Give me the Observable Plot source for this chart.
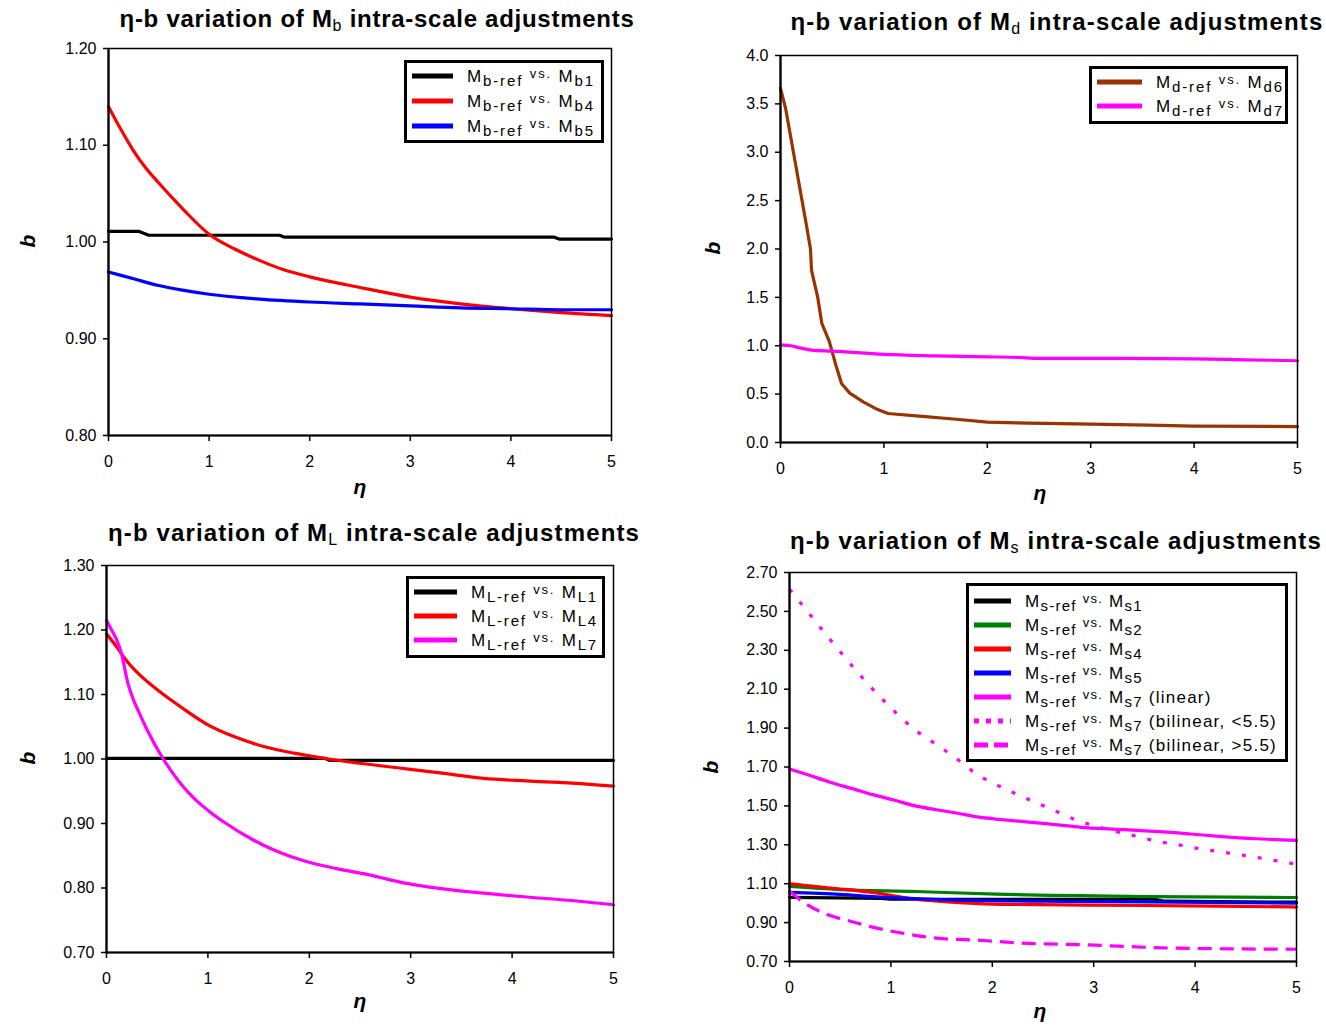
<!DOCTYPE html>
<html><head><meta charset="utf-8">
<script src="https://cdn.jsdelivr.net/npm/d3@7"></script>
<script src="https://cdn.jsdelivr.net/npm/@observablehq/plot@0.6"></script>
<style>
body{margin:0;background:#fff;}
#root{position:relative;width:1326px;height:1026px;background:#fff;font-family:"Liberation Sans",Arial,sans-serif;overflow:hidden;color:#000}
.title{position:absolute;white-space:nowrap;font-family:"Liberation Sans Narrow","Liberation Sans",Arial,sans-serif;font-weight:bold;font-size:24px;transform:translate(-50%,-50%);}
.title sub{font-size:16px;vertical-align:-4px;line-height:0;font-weight:normal}
.axl{position:absolute;font-weight:bold;font-style:italic;font-size:21px;line-height:1;}
.xl{transform:translate(-50%,-50%)}
.yl{transform:translate(-50%,-50%) rotate(-90deg)}
.legend{position:absolute;box-sizing:border-box;border:3px solid #000;background:#fff;}
.row{display:flex;align-items:center;white-space:nowrap;}
.row svg{flex:none;display:block}
.lab{font-size:17px;line-height:1}
.lab sub{font-size:15px;vertical-align:-4px;line-height:0}
.lab .vs{font-size:13px;vertical-align:4px}
</style>
</head><body><div id="root"></div>
<script>
// ---------- data ----------
const X_TICKS = [0, 1, 2, 3, 4, 5];

// Panel 1: M_b
const MB_YTICKS = [0.80, 0.90, 1.00, 1.10, 1.20];
const MB1_ETA = [0, 0.3, 0.4, 1.7, 1.75, 4.43, 4.48, 5];
const MB1_B   = [1.011, 1.011, 1.007, 1.007, 1.005, 1.005, 1.003, 1.003];
const MB4_ETA = [0, 0.125, 0.25, 0.375, 0.5, 0.75, 1, 1.25, 1.5, 1.75, 2, 2.5, 3, 3.5, 4, 4.5, 5];
const MB4_B   = [1.140, 1.116, 1.094, 1.076, 1.061, 1.033, 1.008, 0.993, 0.981, 0.971, 0.964, 0.953, 0.943, 0.936, 0.931, 0.927, 0.924];
const MB5_ETA = [0, 0.25, 0.5, 0.75, 1, 1.5, 2, 2.5, 3, 3.5, 4, 4.5, 5];
const MB5_B   = [0.969, 0.962, 0.955, 0.950, 0.946, 0.941, 0.938, 0.936, 0.934, 0.932, 0.931, 0.930, 0.930];

// Panel 2: M_d
const MD_YTICKS = [0.0, 0.5, 1.0, 1.5, 2.0, 2.5, 3.0, 3.5, 4.0];
const MD6_ETA = [0, 0.05, 0.1, 0.15, 0.2, 0.25, 0.29, 0.30, 0.36, 0.40, 0.47, 0.53, 0.59, 0.67, 0.80, 0.94, 1.04, 1.37, 1.70, 2.0, 2.4, 3.0, 3.56, 4.0, 5];
const MD6_B   = [3.66, 3.45, 3.15, 2.85, 2.55, 2.25, 2.0, 1.78, 1.50, 1.23, 1.05, 0.82, 0.61, 0.51, 0.42, 0.34, 0.30, 0.27, 0.24, 0.21, 0.20, 0.19, 0.18, 0.17, 0.165];
const MD7_ETA = [0, 0.1, 0.2, 0.3, 0.5, 1.0, 1.5, 2.0, 2.3, 2.5, 3, 4, 4.5, 5];
const MD7_B   = [1.01, 1.00, 0.975, 0.955, 0.945, 0.91, 0.895, 0.885, 0.88, 0.87, 0.87, 0.865, 0.855, 0.845];

// Panel 3: M_L
const ML_YTICKS = [0.70, 0.80, 0.90, 1.00, 1.10, 1.20, 1.30];
const ML1_ETA = [0, 2.15, 2.2, 5];
const ML1_B   = [1.001, 1.001, 0.998, 0.998];
const ML4_ETA = [0, 0.1, 0.19, 0.31, 0.52, 0.73, 1.0, 1.27, 1.56, 1.85, 2.19, 2.52, 2.89, 3.31, 3.72, 4.14, 4.55, 5];
const ML4_B   = [1.194, 1.174, 1.154, 1.133, 1.105, 1.081, 1.053, 1.034, 1.019, 1.009, 1.000, 0.993, 0.986, 0.978, 0.970, 0.966, 0.963, 0.958];
const ML7_ETA = [0, 0.05, 0.10, 0.15, 0.21, 0.27, 0.31, 0.395, 0.56, 0.73, 0.89, 1.02, 1.18, 1.43, 1.68, 1.97, 2.27, 2.6, 2.93, 3.3, 3.72, 4.14, 4.55, 5];
const ML7_B   = [1.215, 1.200, 1.185, 1.162, 1.118, 1.090, 1.076, 1.047, 1.000, 0.962, 0.935, 0.918, 0.900, 0.876, 0.857, 0.841, 0.830, 0.820, 0.808, 0.799, 0.792, 0.786, 0.781, 0.774];

// Panel 4: M_s
const MS_YTICKS = [0.70, 0.90, 1.10, 1.30, 1.50, 1.70, 1.90, 2.10, 2.30, 2.50, 2.70];
const MS1_ETA = [0, 0.9, 1.0, 3.6, 3.7, 5];
const MS1_B   = [1.03, 1.025, 1.02, 1.02, 1.01, 1.005];
const MS2_ETA = [0, 0.5, 1.24, 2.04, 3.59, 5];
const MS2_B   = [1.086, 1.07, 1.06, 1.046, 1.034, 1.029];
const MS4_ETA = [0, 0.4, 0.82, 1.24, 1.6, 2.0, 3, 4.2, 5];
const MS4_B   = [1.10, 1.078, 1.055, 1.02, 1.005, 0.995, 0.99, 0.985, 0.98];
const MS5_ETA = [0, 0.5, 0.9, 1.6, 2.9, 5];
const MS5_B   = [1.055, 1.045, 1.031, 1.017, 1.009, 1.00];
const MS7L_ETA = [0, 0.18, 0.4, 0.61, 0.82, 1.03, 1.24, 1.45, 1.66, 1.87, 2.08, 2.29, 2.5, 2.75, 2.92, 3.34, 3.76, 4.18, 4.6, 5];
const MS7L_B   = [1.69, 1.66, 1.622, 1.590, 1.558, 1.530, 1.500, 1.480, 1.462, 1.442, 1.430, 1.420, 1.410, 1.397, 1.388, 1.377, 1.364, 1.346, 1.331, 1.323];
const MS7A_ETA = [0, 0.147, 0.4, 0.65, 0.95, 1.24, 1.45, 1.66, 1.83, 2.04, 2.25, 2.44, 2.63, 2.82, 3.03, 3.43, 3.63, 3.84, 4.01, 4.22, 4.43, 4.64, 4.87, 5];
const MS7A_B   = [2.614, 2.519, 2.356, 2.20, 2.03, 1.89, 1.815, 1.738, 1.669, 1.609, 1.558, 1.515, 1.472, 1.429, 1.394, 1.343, 1.317, 1.30, 1.283, 1.266, 1.25, 1.232, 1.212, 1.20];
const MS7B_ETA = [0, 0.147, 0.4, 0.61, 0.82, 1.11, 1.45, 1.91, 2.29, 2.92, 3.34, 3.76, 5];
const MS7B_B   = [1.061, 1.001, 0.936, 0.906, 0.877, 0.846, 0.82, 0.808, 0.794, 0.786, 0.777, 0.769, 0.763];

// ---------- build ----------
const zip = (e, b) => e.map((v, i) => ({eta: v, b: b[i]}));
const DOT = "4,12", DASH = "14,8";

const panels = [
  {g: "b", title: [377, 19, 515], frame: {l: 108, r: 611, t: 48, b: 435}, dom: [0.8, 1.2], ticks: MB_YTICKS, dec: 2,
   xl: [360, 486], yl: [27, 241],
   legend: {x: 404, y: 60, w: 200, h: 83, pt: 0, rh: 25, sw: 41, fitRow: 0, fitW: 128},
   series: [
     {eta: MB1_ETA, b: MB1_B, color: "#000000", idx: "1", step: true},
     {eta: MB4_ETA, b: MB4_B, color: "#ff0000", idx: "4"},
     {eta: MB5_ETA, b: MB5_B, color: "#0000ff", idx: "5"}]},
  {g: "d", title: [1057, 22, 533], frame: {l: 780, r: 1297, t: 55, b: 442}, dom: [0, 4], ticks: MD_YTICKS, dec: 1,
   xl: [1040, 492], yl: [712, 248],
   legend: {x: 1089, y: 66, w: 199, h: 58, pt: 1, rh: 24, sw: 45, fitRow: 0, fitW: 128},
   series: [
     {eta: MD6_ETA, b: MD6_B, color: "#993300", idx: "6", step: true},
     {eta: MD7_ETA, b: MD7_B, color: "#ff00ff", idx: "7"}]},
  {g: "L", title: [374, 533, 532], frame: {l: 106, r: 613, t: 565, b: 952}, dom: [0.7, 1.3], ticks: ML_YTICKS, dec: 2,
   xl: [360, 1000], yl: [27, 758],
   legend: {x: 406, y: 576, w: 199, h: 82, pt: 1, rh: 24, sw: 43, fitRow: 0, fitW: 127},
   series: [
     {eta: ML1_ETA, b: ML1_B, color: "#000000", idx: "1", step: true},
     {eta: ML4_ETA, b: ML4_B, color: "#ff0000", idx: "4"},
     {eta: ML7_ETA, b: ML7_B, color: "#ff00ff", idx: "7"}]},
  {g: "s", title: [1056, 541, 532], frame: {l: 789, r: 1296, t: 572, b: 961}, dom: [0.7, 2.7], ticks: MS_YTICKS, dec: 2,
   xl: [1040, 1010], yl: [710, 767],
   legend: {x: 966, y: 583, w: 322, h: 179, pt: 3, rh: 24, sw: 37, fitRow: 6, fitW: 252},
   series: [
     {eta: MS1_ETA, b: MS1_B, color: "#000000", idx: "1", step: true},
     {eta: MS2_ETA, b: MS2_B, color: "#008000", idx: "2"},
     {eta: MS4_ETA, b: MS4_B, color: "#ff0000", idx: "4"},
     {eta: MS5_ETA, b: MS5_B, color: "#0000ff", idx: "5"},
     {eta: MS7L_ETA, b: MS7L_B, color: "#ff00ff", idx: "7", suffix: " (linear)"},
     {eta: MS7A_ETA, b: MS7A_B, color: "#ff00ff", idx: "7", suffix: " (bilinear, <5.5)", dash: DOT},
     {eta: MS7B_ETA, b: MS7B_B, color: "#ff00ff", idx: "7", suffix: " (bilinear, >5.5)", dash: DASH}]}
];

const root = document.getElementById("root");
const esc = s => s.replace(/</g, "&lt;").replace(/>/g, "&gt;");

for (const p of panels) {
  const fr = p.frame;
  const ml = 80, mr = 20, mt = 12, mb = 50;
  const W = fr.r - fr.l + ml + mr, H = fr.b - fr.t + mt + mb;
  const lines = p.series.map(s => Plot.line(zip(s.eta, s.b), {
    x: "eta", y: "b", stroke: s.color, strokeWidth: 3.2, curve: s.step ? "linear" : "monotone-x",
    strokeDasharray: s.dash, strokeLinejoin: "round", strokeLinecap: s.dash ? "butt" : "round"
  }));
  const chart = Plot.plot({
    width: W, height: H, marginLeft: ml, marginRight: mr, marginTop: mt, marginBottom: mb,
    style: {fontFamily: '"Liberation Sans", Arial, sans-serif', fontSize: "16px", color: "#000", background: "transparent", overflow: "visible"},
    x: {domain: [0, 5]},
    y: {domain: p.dom},
    marks: [
      ...lines,
      Plot.frame({stroke: "#000", strokeWidth: 1.5}),
      Plot.ruleX([0], {stroke: "#000", strokeWidth: 2.2}),
      Plot.ruleY([p.dom[0]], {stroke: "#000", strokeWidth: 2.2}),
      Plot.axisX({ticks: X_TICKS, tickFormat: d => String(d), tickSize: 6, tickPadding: 14, label: null, strokeWidth: 1.5}),
      Plot.axisY({ticks: p.ticks, tickFormat: d => d.toFixed(p.dec), tickSize: 5, tickPadding: 7, label: null, strokeWidth: 1.5})
    ]
  });
  chart.style.position = "absolute";
  chart.style.left = (fr.l - ml) + "px";
  chart.style.top = (fr.t - mt) + "px";
  root.appendChild(chart);

  // title
  const t = document.createElement("div");
  t.className = "title";
  t.innerHTML = `η-b variation of M<sub>${p.g}</sub> intra-scale adjustments`;
  t.style.left = p.title[0] + "px"; t.style.top = p.title[1] + "px";
  root.appendChild(t);
  const w0 = t.getBoundingClientRect().width;
  const n = t.textContent.length;
  t.style.letterSpacing = ((p.title[2] - w0) / n) + "px";

  // axis labels
  const xl = document.createElement("div");
  xl.className = "axl xl"; xl.textContent = "η";
  xl.style.left = p.xl[0] + "px"; xl.style.top = p.xl[1] + "px";
  root.appendChild(xl);
  const yl = document.createElement("div");
  yl.className = "axl yl"; yl.textContent = "b";
  yl.style.left = p.yl[0] + "px"; yl.style.top = p.yl[1] + "px";
  root.appendChild(yl);

  // legend
  const L = p.legend;
  const lg = document.createElement("div");
  lg.className = "legend";
  Object.assign(lg.style, {left: L.x + "px", top: L.y + "px", width: L.w + "px", height: L.h + "px", paddingTop: L.pt + "px"});
  const labs = [];
  for (const s of p.series) {
    const row = document.createElement("div");
    row.className = "row";
    row.style.height = L.rh + "px";
    const dash = s.dash ? `stroke-dasharray="${s.dash === DOT ? "5,7" : "14,6"}"` : "";
    row.innerHTML = `<svg width="${L.sw + 5}" height="10" style="margin-left:5px;margin-right:9px"><line x1="0" x2="${L.sw}" y1="5" y2="5" stroke="${s.color}" stroke-width="5" ${dash}/></svg>` +
      `<span class="lab">M<sub>${p.g}-ref</sub> <span class="vs">vs.</span> M<sub>${p.g}${s.idx}</sub>${s.suffix ? esc(s.suffix) : ""}</span>`;
    lg.appendChild(row);
    labs.push(row.querySelector(".lab"));
  }
  root.appendChild(lg);
  // fit letter spacing of one label to its width in the reference
  const fl = labs[L.fitRow];
  const lw = fl.getBoundingClientRect().width;
  const ls = (L.fitW - lw) / fl.textContent.length;
  labs.forEach(l => l.style.letterSpacing = ls + "px");
}
</script>
</body></html>
